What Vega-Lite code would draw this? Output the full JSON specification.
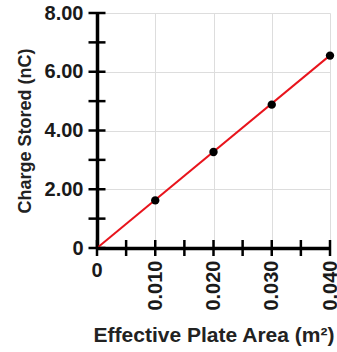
{
  "$schema": "https://vega.github.io/schema/vega-lite/v6.json",
  "width": 233,
  "height": 235,
  "autosize": {"type": "none"},
  "padding": {"left": 97, "top": 13, "right": 7, "bottom": 104},
  "background": "white",
  "config": {
    "view": {"stroke": null},
    "axis": {
      "labelFont": "Liberation Sans",
      "titleFont": "Liberation Sans",
      "labelFontWeight": "bold",
      "titleFontWeight": "bold",
      "labelFontSize": 20,
      "labelColor": "#1a1a1a",
      "titleColor": "#222",
      "domainColor": "black",
      "domainWidth": 3.5,
      "ticks": false
    }
  },
  "datasets": {
    "points": [
      {"area": 0.010, "charge": 1.62},
      {"area": 0.020, "charge": 3.27},
      {"area": 0.030, "charge": 4.88},
      {"area": 0.040, "charge": 6.55}
    ],
    "fit": [
      {"area": 0.0, "charge": 0.0},
      {"area": 0.0405, "charge": 6.64}
    ],
    "yticks": [
      {"charge": 0}, {"charge": 1}, {"charge": 2}, {"charge": 3}, {"charge": 4},
      {"charge": 5}, {"charge": 6}, {"charge": 7}, {"charge": 8}
    ],
    "xticks": [
      {"area": 0}, {"area": 0.005}, {"area": 0.01}, {"area": 0.015}, {"area": 0.02},
      {"area": 0.025}, {"area": 0.03}, {"area": 0.035}, {"area": 0.04}
    ],
    "zero": [{"area": 0, "label": "0"}]
  },
  "layer": [
    {
      "data": {"name": "fit"},
      "mark": {"type": "line", "color": "#e8141c", "strokeWidth": 2, "clip": true},
      "encoding": {
        "x": {
          "field": "area", "type": "quantitative",
          "scale": {"domain": [0, 0.04], "nice": false},
          "title": "Effective Plate Area (m²)",
          "axis": {
            "values": [0, 0.01, 0.02, 0.03, 0.04],
            "labelExpr": "datum.value == 0 ? '' : format(datum.value, '.3f')",
            "labelAngle": 270,
            "labelPadding": 12,
            "labelOverlap": false,
            "labelFlush": false,
            "titleFontSize": 21,
            "titlePadding": 14,
            "gridColor": {"condition": {"test": "datum.value == 0", "value": "transparent"}, "value": "#dddddd"}
          }
        },
        "y": {
          "field": "charge", "type": "quantitative",
          "scale": {"domain": [0, 8], "nice": false},
          "title": "Charge Stored (nC)",
          "axis": {
            "values": [0, 2, 4, 6, 8],
            "labelExpr": "datum.value == 0 ? '0' : format(datum.value, '.2f')",
            "labelPadding": 14,
            "labelOverlap": false,
            "labelFlush": false,
            "titleFontSize": 18,
            "titlePadding": 10,
            "gridColor": {"condition": {"test": "datum.value == 0", "value": "transparent"}, "value": "#dddddd"}
          }
        }
      }
    },
    {
      "data": {"name": "points"},
      "mark": {"type": "point", "filled": true, "color": "black", "size": 70, "opacity": 1},
      "encoding": {
        "x": {"field": "area", "type": "quantitative"},
        "y": {"field": "charge", "type": "quantitative"}
      }
    },
    {
      "data": {"name": "yticks"},
      "mark": {"type": "tick", "orient": "horizontal", "color": "black", "size": 17, "thickness": 2.5, "opacity": 1, "clip": false},
      "encoding": {
        "x": {"datum": 0, "type": "quantitative"},
        "y": {"field": "charge", "type": "quantitative"}
      }
    },
    {
      "data": {"name": "xticks"},
      "mark": {"type": "tick", "orient": "vertical", "color": "black", "size": 16, "thickness": 2.5, "opacity": 1, "clip": false},
      "encoding": {
        "x": {"field": "area", "type": "quantitative"},
        "y": {"datum": 0, "type": "quantitative"}
      }
    },
    {
      "data": {"name": "zero"},
      "mark": {"type": "text", "baseline": "top", "align": "center", "dy": 13, "font": "Liberation Sans", "fontWeight": "bold", "fontSize": 20, "color": "#1a1a1a"},
      "encoding": {
        "x": {"field": "area", "type": "quantitative"},
        "y": {"datum": 0, "type": "quantitative"},
        "text": {"field": "label"}
      }
    }
  ]
}
